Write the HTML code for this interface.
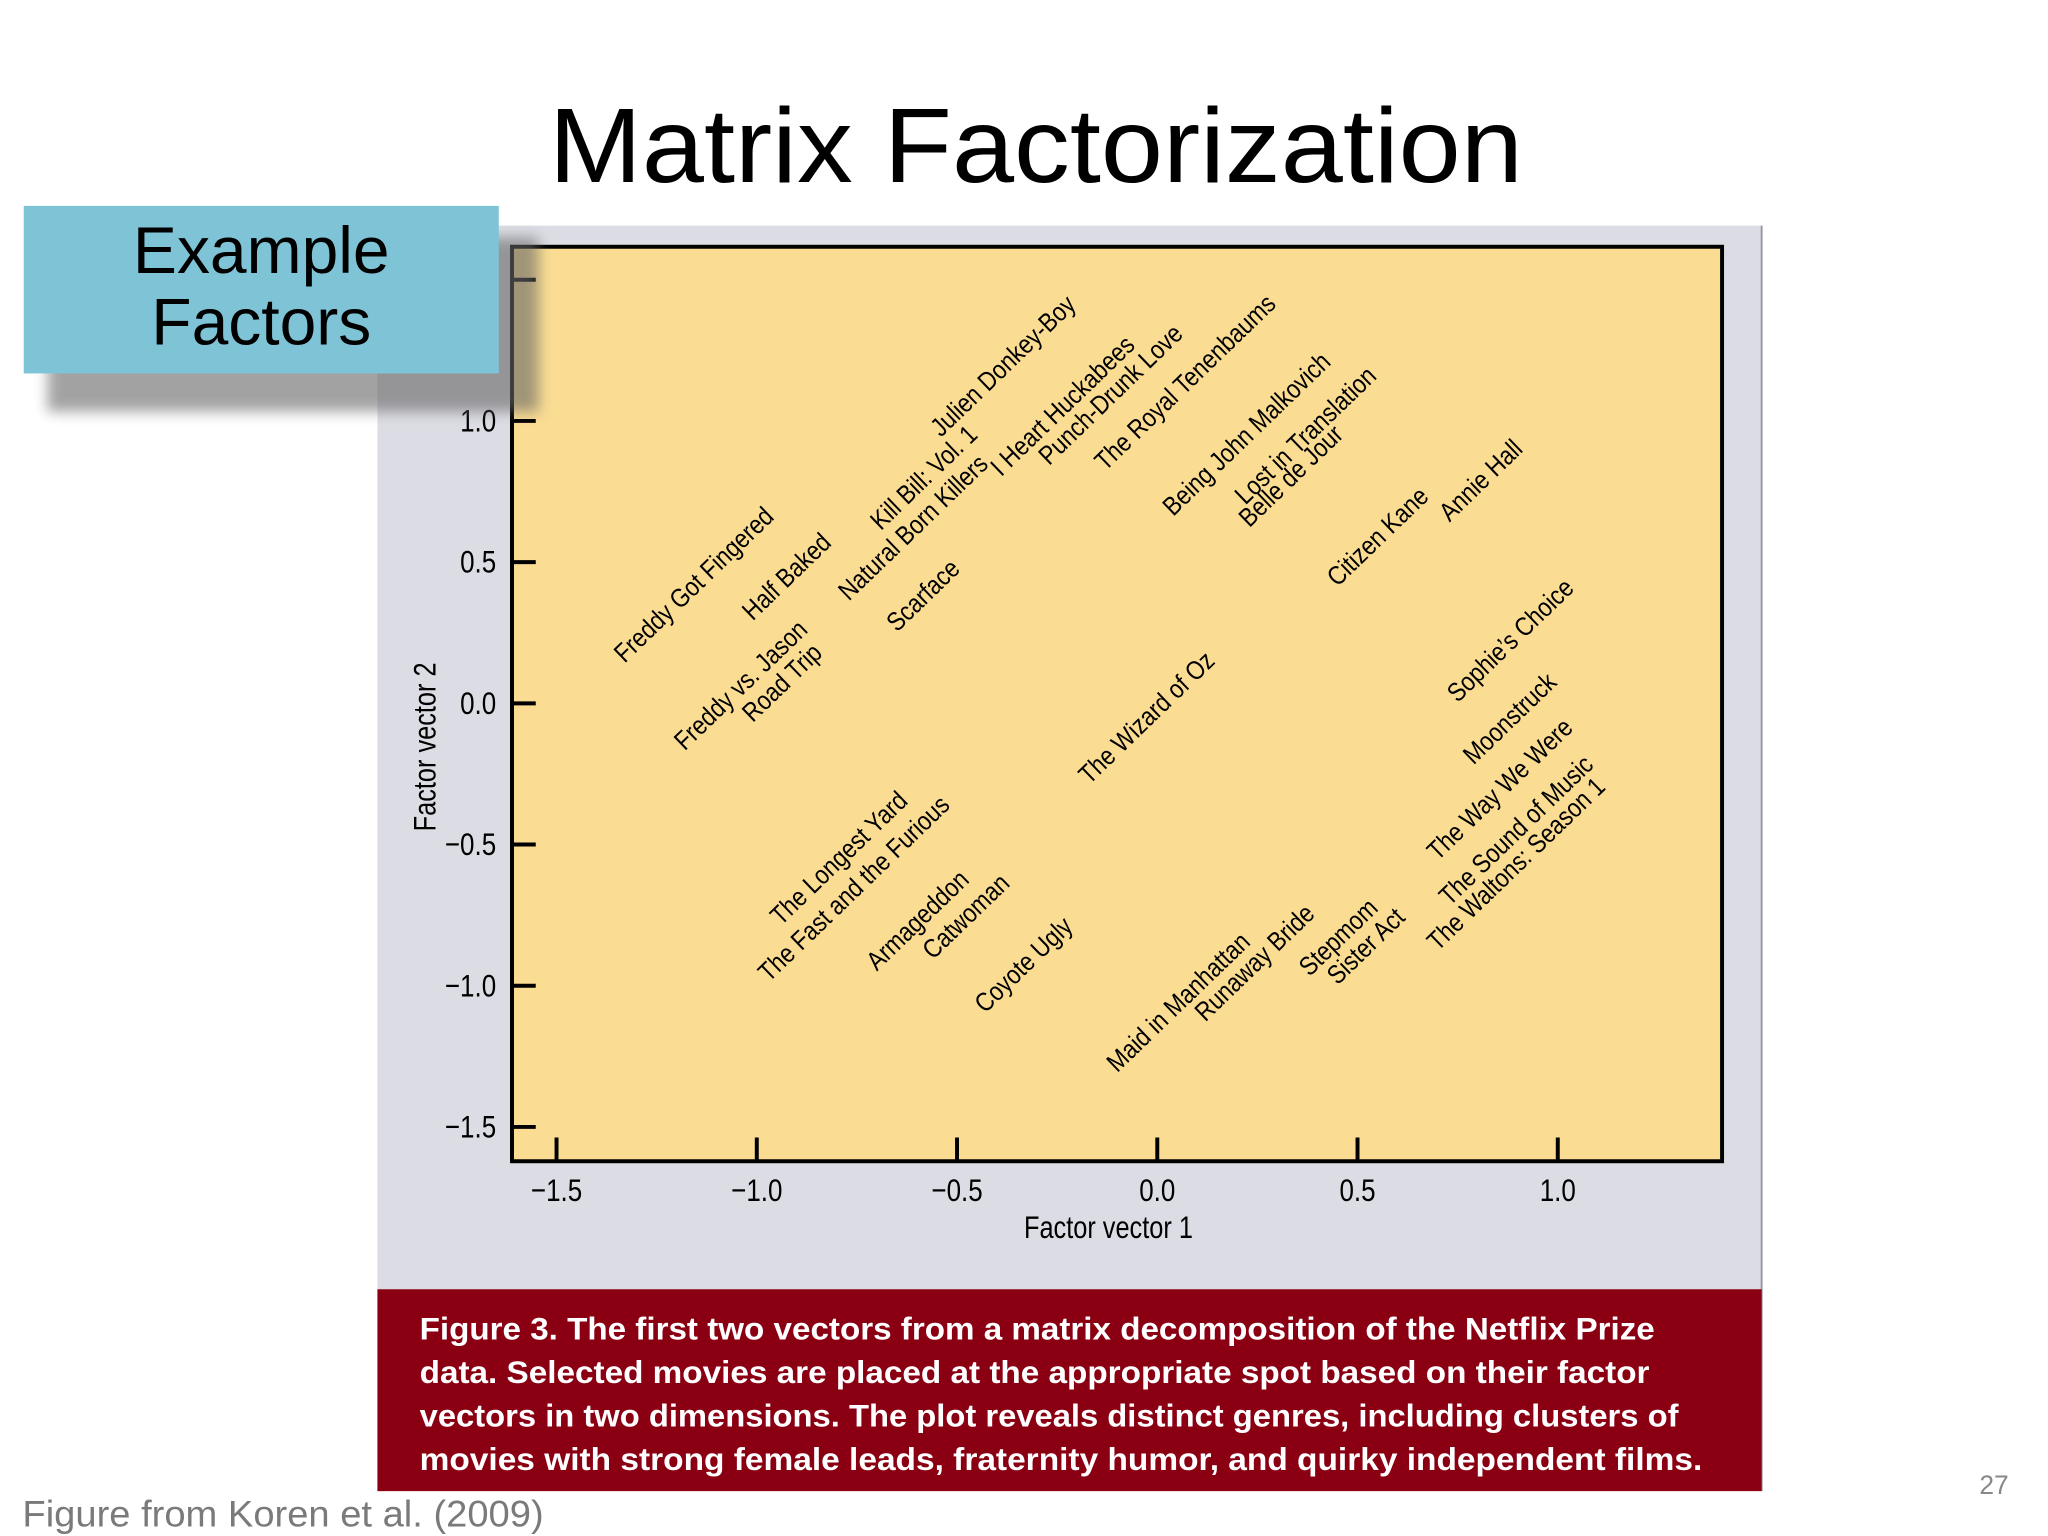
<!DOCTYPE html>
<html><head><meta charset="utf-8"><style>
html,body{margin:0;padding:0;background:#fff;}
svg{display:block;}
text{font-family:"Liberation Sans Narrow","Liberation Sans",sans-serif;}
</style></head><body>
<svg id="s" width="2048" height="1536" viewBox="0 0 1552 1164" xmlns="http://www.w3.org/2000/svg">
<defs><filter id="blur" x="-20%" y="-20%" width="140%" height="140%"><feGaussianBlur stdDeviation="5"/></filter></defs>
<text x="785" y="138" text-anchor="middle" font-size="80" textLength="738" lengthAdjust="spacingAndGlyphs" style="font-family:'Liberation Sans',sans-serif">Matrix Factorization</text>
<rect x="286" y="171" width="1049" height="806" fill="#dcdde4"/>
<line x1="1335" y1="171" x2="1335" y2="1130" stroke="#9a9aa2" stroke-width="1.5"/>
<rect x="388" y="187" width="917" height="693" fill="#fadc93" stroke="#000" stroke-width="3"/>
<g id="axes"></g>
<g id="labels"></g>
<text x="840" y="938" text-anchor="middle" font-size="24" textLength="128" lengthAdjust="spacingAndGlyphs">Factor vector 1</text>
<text x="0" y="0" transform="translate(330,566) rotate(-90)" text-anchor="middle" font-size="24" textLength="128" lengthAdjust="spacingAndGlyphs">Factor vector 2</text>
<rect x="36" y="180" width="372" height="132" fill="#666" opacity="0.6" filter="url(#blur)"/>
<rect x="18" y="156" width="360" height="127" fill="#7fc4d6"/>
<text x="198" y="207" text-anchor="middle" font-size="50" style="font-family:'Liberation Sans',sans-serif">Example</text>
<text x="198" y="261" text-anchor="middle" font-size="50" style="font-family:'Liberation Sans',sans-serif">Factors</text>
<rect x="286" y="977" width="1049" height="153" fill="#8a0012"/>
<g font-size="24" fill="#fff" font-weight="bold" style="font-family:'Liberation Sans',sans-serif">
<text x="318" y="1015" textLength="936" lengthAdjust="spacingAndGlyphs">Figure 3. The first two vectors from a matrix decomposition of the Netflix Prize</text>
<text x="318" y="1048" textLength="932" lengthAdjust="spacingAndGlyphs">data. Selected movies are placed at the appropriate spot based on their factor</text>
<text x="318" y="1081" textLength="954" lengthAdjust="spacingAndGlyphs">vectors in two dimensions. The plot reveals distinct genres, including clusters of</text>
<text x="318" y="1114" textLength="972" lengthAdjust="spacingAndGlyphs">movies with strong female leads, fraternity humor, and quirky independent films.</text>
</g>
<text x="17" y="1157" font-size="28" fill="#7a7a7a" style="font-family:'Liberation Sans',sans-serif" textLength="395" lengthAdjust="spacingAndGlyphs">Figure from Koren et al. (2009)</text>
<text x="1500" y="1132" font-size="20" fill="#888" style="font-family:'Liberation Sans',sans-serif">27</text>
</svg>
<script>
const xTicks=[-1.5,-1.0,-0.5,0.0,0.5,1.0];
const yTicks=[1.5,1.0,0.5,0.0,-0.5,-1.0,-1.5];
const yTickLabels=["","1.0","0.5","0.0","\u22120.5","\u22121.0","\u22121.5"];
const xTickLabels=["\u22121.5","\u22121.0","\u22120.5","0.0","0.5","1.0"];
const movies=["Freddy Got Fingered","Half Baked","Freddy vs. Jason","Road Trip","Kill Bill: Vol. 1","Natural Born Killers","Scarface","Julien Donkey-Boy","I Heart Huckabees","Punch-Drunk Love","The Royal Tenenbaums","Being John Malkovich","Lost in Translation","Belle de Jour","Citizen Kane","Annie Hall","Sophie\u2019s Choice","Moonstruck","The Way We Were","The Sound of Music","The Waltons: Season 1","The Wizard of Oz","The Longest Yard","The Fast and the Furious","Armageddon","Catwoman","Coyote Ugly","Maid in Manhattan","Runaway Bride","Stepmom","Sister Act"];
const f1=[-1.33,-1.01,-1.18,-1.01,-0.69,-0.77,-0.65,-0.54,-0.39,-0.27,-0.13,0.04,0.22,0.23,0.45,0.73,0.75,0.79,0.70,0.73,0.70,-0.17,-0.94,-0.97,-0.70,-0.56,-0.43,-0.10,0.12,0.38,0.45];
const f2=[0.14,0.29,-0.17,-0.07,0.61,0.36,0.25,0.94,0.80,0.84,0.82,0.66,0.70,0.62,0.41,0.64,0.00,-0.22,-0.56,-0.72,-0.88,-0.29,-0.79,-0.99,-0.95,-0.91,-1.10,-1.31,-1.13,-0.97,-1.00];
const NS="http://www.w3.org/2000/svg";
function sx(v){return 877+v*303.5;}
function sy(v){return 533-v*214;}
const ax=document.getElementById('axes');
function mk(tag,attrs,parent){const e=document.createElementNS(NS,tag);for(const k in attrs)e.setAttribute(k,attrs[k]);parent.appendChild(e);return e;}
xTicks.forEach((v,i)=>{
 const l=mk('line',{x1:sx(v),x2:sx(v),y1:880,y2:862,stroke:'#000','stroke-width':3},ax);
 
 
 const t=mk('text',{x:0,y:0,transform:`translate(${sx(v)},910) scale(0.82,1)`,'text-anchor':'middle','font-size':24},ax);
 t.textContent=xTickLabels[i];
 
 
});
yTicks.forEach((v,i)=>{
 const l=mk('line',{x1:388,x2:406,y1:sy(v),y2:sy(v),stroke:'#000','stroke-width':3},ax);
 
 
 const t=mk('text',{x:0,y:0,transform:`translate(376,${sy(v)+8}) scale(0.82,1)`,'text-anchor':'end','font-size':24},ax);
 t.textContent=yTickLabels[i];
 
 
});
const lg=document.getElementById('labels');
movies.forEach((m,i)=>{
 const x=sx(f1[i]),y=sy(f2[i]);
 const t=mk('text',{x:0,y:0,transform:`translate(${x},${y}) rotate(-44) scale(0.86,1)`,'font-size':20},lg);
 t.textContent=m;
 
 
});
</script>
</body></html>
